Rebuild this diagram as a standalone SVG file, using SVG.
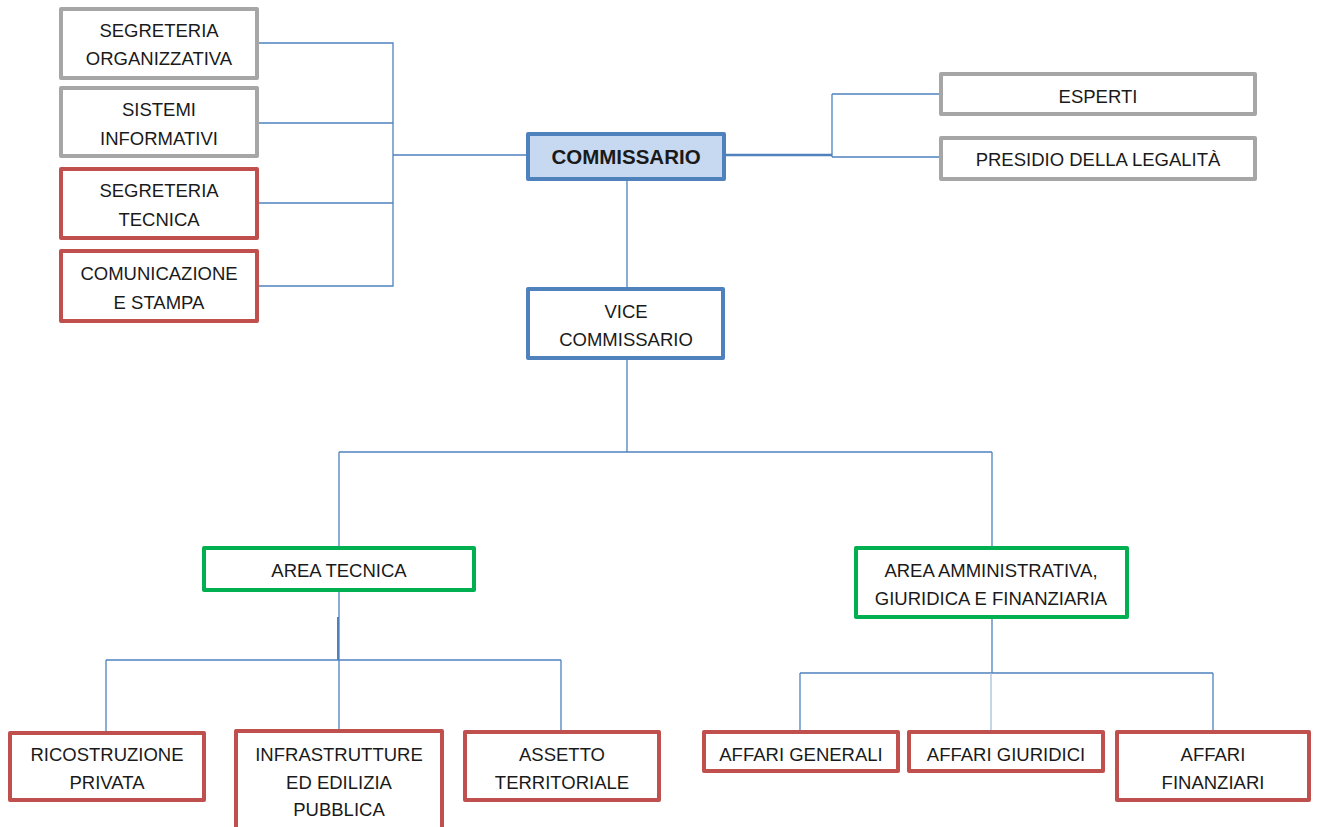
<svg xmlns="http://www.w3.org/2000/svg" width="1318" height="827" viewBox="0 0 1318 827">
<style>
.box{fill:#fff;stroke-width:4;stroke-linejoin:round}
.gray{stroke:#a6a6a6}
.red{stroke:#c0504d}
.blue{stroke:#4f81bd}
.green{stroke:#00b050}
.main{fill:#c6d9f1}
text{font-family:"Liberation Sans",Arial,sans-serif;font-size:18.5px;fill:#1a1a1a;text-anchor:middle}
.b{font-weight:bold;font-size:20.5px}
.ln{fill:none;stroke:#4f81bd;stroke-width:1.3}
</style>
<g id="connectors">
<path class="ln" d="M259 43H393V286H259M259 123H393M259 203H393M393 155H527"/>
<path class="ln" d="M832 94V157M832 94H940M832 157H940"/>
<path class="ln" d="M725 155H832" style="stroke-width:2.5"/>
<path class="ln" d="M627 180V289M627 359V452M339 452H992M339 452V547M992 452V547"/>
<path class="ln" d="M339 590V660M106 660H561M106 660V733M339 660V730M561 660V731"/>
<path class="ln" d="M338 617V660" style="stroke-width:2"/>
<path class="ln" d="M992 618V673M800 673H1213M800 673V731M1213 673V731"/>
<path class="ln" d="M991 673V731" style="stroke:#a7bedb"/>
</g>
<g id="n-segr-org"><rect class="box gray" x="61" y="9" width="196" height="69"/><text x="159" y="37">SEGRETERIA</text><text x="159" y="65">ORGANIZZATIVA</text></g>
<g id="n-sistemi"><rect class="box gray" x="61" y="88" width="196" height="68"/><text x="159" y="116">SISTEMI</text><text x="159" y="145">INFORMATIVI</text></g>
<g id="n-segr-tec"><rect class="box red" x="61" y="169" width="196" height="69"/><text x="159" y="197">SEGRETERIA</text><text x="159" y="226">TECNICA</text></g>
<g id="n-comunicazione"><rect class="box red" x="61" y="251" width="196" height="70"/><text x="159" y="280">COMUNICAZIONE</text><text x="159" y="309">E STAMPA</text></g>
<g id="n-commissario"><rect class="box blue main" x="528" y="134" width="196" height="45"/><text class="b" x="626" y="164">COMMISSARIO</text></g>
<g id="n-esperti"><rect class="box gray" x="941" y="74" width="314" height="40"/><text x="1098" y="103">ESPERTI</text></g>
<g id="n-presidio"><rect class="box gray" x="941" y="138" width="314" height="41"/><text x="1098" y="166">PRESIDIO DELLA LEGALITÀ</text></g>
<g id="n-vice"><rect class="box blue" x="528" y="289" width="195" height="69"/><text x="626" y="318">VICE</text><text x="626" y="346">COMMISSARIO</text></g>
<g id="n-area-tecnica"><rect class="box green" x="204" y="548" width="270" height="42"/><text x="339" y="577">AREA TECNICA</text></g>
<g id="n-area-amm"><rect class="box green" x="856" y="548" width="271" height="69"/><text x="991" y="577">AREA AMMINISTRATIVA,</text><text x="991" y="605">GIURIDICA E FINANZIARIA</text></g>
<g id="n-ricostruzione"><rect class="box red" x="10" y="733" width="194" height="67"/><text x="107" y="761">RICOSTRUZIONE</text><text x="107" y="789">PRIVATA</text></g>
<g id="n-infrastrutture"><rect class="box red" x="236" y="731" width="206" height="104"/><text x="339" y="761">INFRASTRUTTURE</text><text x="339" y="789">ED EDILIZIA</text><text x="339" y="816">PUBBLICA</text></g>
<g id="n-assetto"><rect class="box red" x="465" y="732" width="194" height="68"/><text x="562" y="761">ASSETTO</text><text x="562" y="789">TERRITORIALE</text></g>
<g id="n-aff-gen"><rect class="box red" x="704" y="732" width="194" height="39"/><text x="801" y="761">AFFARI GENERALI</text></g>
<g id="n-aff-giu"><rect class="box red" x="909" y="732" width="194" height="39"/><text x="1006" y="761">AFFARI GIURIDICI</text></g>
<g id="n-aff-fin"><rect class="box red" x="1117" y="732" width="192" height="68"/><text x="1213" y="761">AFFARI</text><text x="1213" y="789">FINANZIARI</text></g>
</svg>
